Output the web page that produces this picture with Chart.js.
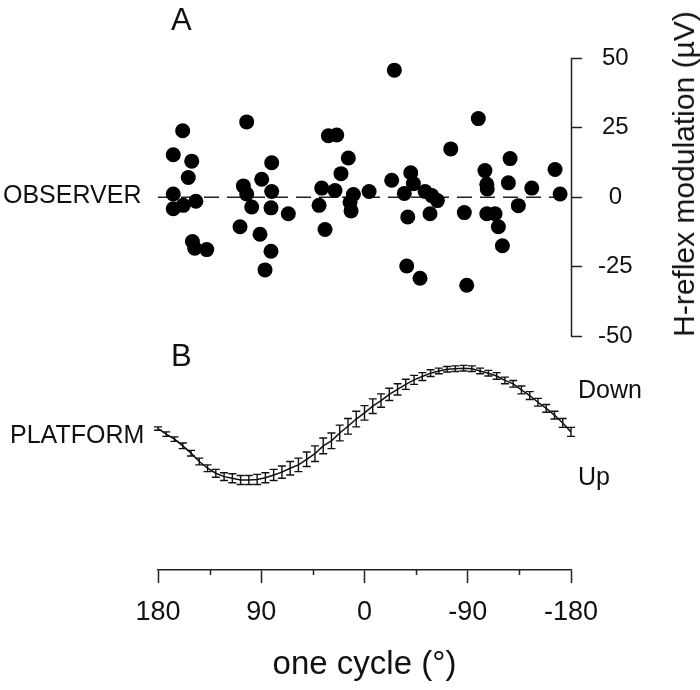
<!DOCTYPE html>
<html><head><meta charset="utf-8">
<script src="https://cdn.jsdelivr.net/npm/chart.js@4"></script>
<style>
html,body{margin:0;padding:0;background:#fff;}
#wrap{position:relative;width:700px;height:690px;overflow:hidden;}
canvas{position:absolute;left:0;top:0;}
.lbl{position:absolute;font-family:"Liberation Sans",Arial,sans-serif;color:#111;white-space:nowrap;line-height:1;transform:translateY(-50%);}
</style></head><body>
<div id="wrap">
<canvas id="c" width="700" height="690"></canvas>
<div class="lbl" style="left:171px;top:19px;font-size:31px">A</div>
<div class="lbl" style="left:171px;top:355px;font-size:31px">B</div>
<div class="lbl" style="left:3px;top:194px;font-size:25px">OBSERVER</div>
<div class="lbl" style="left:10px;top:434px;font-size:25px">PLATFORM</div>
<div class="lbl" style="left:578px;top:389px;font-size:25px">Down</div>
<div class="lbl" style="left:578px;top:476px;font-size:25px">Up</div>
<div class="lbl" style="left:684px;top:174px;font-size:30px;transform:translate(-50%,-50%) rotate(-90deg)">H-reflex modulation (µV)</div>
</div>
<script>
// ---- data ----
const observerPhase = [158.5,166.7,150.6,153.6,166.7,166.7,158,147,150,148,137.5,
  102.7,105.6,102.7,98.3,108.5,80.9,89.6,80.9,81.5,66.4,91.1,81.5,86.7,
  31.5,24.2,14.1,20.5,37.3,25.7,9.7,12.6,11.7,39.6,34.4,-4,
  -26,-75.2,-23.7,-40.3,-42.6,-34.7,-52.8,-58.6,-63.5,-57.1,-37.7,-87,-36.8,-48.4,-89.1,
  -99.2,-126.9,-105,-106.6,-107,-125.4,-145.8,-166.1,-170.5,-106.6,-113.8,-116.7,-120.2,-134.1];
const observerModulation = [23.9,15.3,13.0,7.1,1.2,-4.1,-2.9,-1.4,-15.9,-18.3,-18.8,
  27.1,4.1,1.2,-3.5,-10.6,12.4,6.5,2.1,-3.8,-5.9,-13.3,-19.4,-26.1,
  22.1,22.4,14.1,8.5,3.3,2.4,1.0,-1.8,-4.9,-2.9,-11.6,2.1,
  45.7,17.4,6.1,8.8,4.9,1.4,2.1,0.6,-1.2,-5.9,-7.1,-5.5,-24.7,-29.1,-31.6,
  28.3,13.9,9.6,4.7,3.0,5.2,3.3,10.0,1.2,-5.9,-5.9,-10.6,-17.4,-3.0];
const zeroLinePhase = [180, -180];
const zeroLineValue = [0, 0];

const platformPhase = [180,172.8,165.6,158.4,151.2,144,136.8,129.6,122.4,115.2,108,100.8,93.6,86.4,79.2,72,64.8,57.6,50.4,43.2,
  36,28.8,21.6,14.4,7.2,0,-7.2,-14.4,-21.6,-28.8,-36,-43.2,-50.4,-57.6,-64.8,-72,-79.2,-86.4,-93.6,-100.8,
  -108,-115.2,-122.4,-129.6,-136.8,-144,-151.2,-158.4,-165.6,-172.8,-180];
const platformPosition = [-0.08,-0.18,-0.27,-0.39,-0.52,-0.67,-0.79,-0.88,-0.94,-0.97,
  -1.0,-1.0,-0.99,-0.96,-0.91,-0.86,-0.79,-0.73,-0.63,-0.53,
  -0.39,-0.30,-0.16,-0.04,0.09,0.20,0.32,0.42,0.53,0.62,
  0.71,0.79,0.85,0.91,0.95,0.98,0.99,1.0,0.99,0.95,
  0.91,0.86,0.78,0.72,0.61,0.51,0.39,0.28,0.16,0.02,-0.14];
const platformSD = [0.03,0.04,0.04,0.05,0.05,0.06,0.06,0.07,0.07,0.08,
  0.08,0.08,0.09,0.09,0.10,0.11,0.12,0.12,0.13,0.14,
  0.14,0.14,0.14,0.14,0.14,0.13,0.13,0.12,0.11,0.10,
  0.09,0.08,0.07,0.06,0.05,0.05,0.05,0.05,0.05,0.05,
  0.05,0.06,0.06,0.06,0.07,0.07,0.07,0.07,0.07,0.08,0.08];

const xTickLabels = [180, 90, 0, -90, -180];
const xMinorTicks = [135, 45, -45, -135];
const yTickLabels = [50, 25, 0, -25, -50];

const FONT = '"Liberation Sans", Arial, sans-serif';
const INK = '#111';

const errorBarPlugin = {
  id: 'errorBars',
  afterDatasetsDraw(chart) {
    const xs = chart.scales.x, ys = chart.scales.yB, c = chart.ctx;
    c.save();
    c.strokeStyle = INK; c.lineWidth = 1.4;
    platformPhase.forEach((p, i) => {
      const x = xs.getPixelForValue(p);
      const y1 = ys.getPixelForValue(platformPosition[i] + platformSD[i]);
      const y2 = ys.getPixelForValue(platformPosition[i] - platformSD[i]);
      c.beginPath();
      c.moveTo(x, y1); c.lineTo(x, y2);
      c.moveTo(x - 4, y1); c.lineTo(x + 4, y1);
      c.moveTo(x - 4, y2); c.lineTo(x + 4, y2);
      c.stroke();
    });
    c.restore();
  }
};

const axisExtrasPlugin = {
  id: 'axisExtras',
  afterDraw(chart) {
    const c = chart.ctx, ya = chart.scales.yA, xs = chart.scales.x;
    c.save();
    c.strokeStyle = '#222'; c.lineWidth = 1.5;
    const xl = Math.round(ya.left) + 0.5;
    c.beginPath();
    c.moveTo(xl, ya.getPixelForValue(Math.max(...yTickLabels)));
    c.lineTo(xl, ya.getPixelForValue(Math.min(...yTickLabels)));
    c.stroke();
    const yb = xs.top;
    xMinorTicks.forEach(v => {
      const x = Math.round(xs.getPixelForValue(v)) + 0.5;
      c.beginPath(); c.moveTo(x, yb); c.lineTo(x, yb + 5); c.stroke();
    });
    c.restore();
  }
};

new Chart(document.getElementById('c'), {
  type: 'scatter',
  data: {
    datasets: [
      {
        label: 'zero',
        data: zeroLinePhase.map((p, i) => ({x: p, y: zeroLineValue[i]})),
        yAxisID: 'yA', showLine: true, pointRadius: 0,
        borderColor: '#222', borderWidth: 1.5, borderDash: [15, 8], order: 3
      },
      {
        label: 'OBSERVER',
        data: observerPhase.map((p, i) => ({x: p, y: observerModulation[i]})),
        yAxisID: 'yA', pointRadius: 7.5, pointBackgroundColor: '#000',
        pointBorderWidth: 0, borderColor: '#000', order: 1
      },
      {
        label: 'PLATFORM',
        data: platformPhase.map((p, i) => ({x: p, y: platformPosition[i]})),
        yAxisID: 'yB', showLine: true, pointRadius: 0,
        borderColor: INK, borderWidth: 1.5, tension: 0, order: 2
      }
    ]
  },
  options: {
    responsive: false,
    animation: false,
    devicePixelRatio: 1,
    layout: { padding: { left: 158, top: 20, right: 0, bottom: 0 } },
    plugins: { legend: { display: false }, tooltip: { enabled: false } },
    scales: {
      x: {
        type: 'linear', position: 'bottom', min: -180, max: 180, reverse: true,
        afterBuildTicks: s => { s.ticks = xTickLabels.concat(xMinorTicks).sort((a,b)=>b-a).map(v => ({value: v})); },
        ticks: {
          autoSkip: false, maxRotation: 0, padding: 13, color: INK,
          font: { family: FONT, size: 27 },
          callback: v => xTickLabels.includes(v) ? String(v) : ''
        },
        grid: {
          drawOnChartArea: false, drawTicks: true, tickLength: 13, tickWidth: 1.5,
          tickColor: ctx => (ctx.tick && xTickLabels.includes(ctx.tick.value)) ? '#222' : 'rgba(0,0,0,0)'
        },
        border: { display: true, color: '#222', width: 1.5 },
        title: {
          display: true, text: 'one cycle (°)', color: INK,
          font: { family: FONT, size: 33 }, padding: { top: 0, bottom: 5 }
        },
        afterFit: s => { s.height = 120; }
      },
      yA: {
        type: 'linear', position: 'right', min: -134, max: 60,
        afterBuildTicks: s => { s.ticks = yTickLabels.map(v => ({value: v})); },
        ticks: { color: INK, padding: 16, crossAlign: 'center', font: { family: FONT, size: 24 } },
        grid: { drawOnChartArea: false, tickLength: 11, tickWidth: 1.5, tickColor: '#222' },
        border: { display: false },
        afterFit: s => { s.width = 129; }
      },
      yB: {
        type: 'linear', display: false, min: -2.61, max: 7.04
      }
    }
  },
  plugins: [errorBarPlugin, axisExtrasPlugin]
});
</script>
</body></html>
